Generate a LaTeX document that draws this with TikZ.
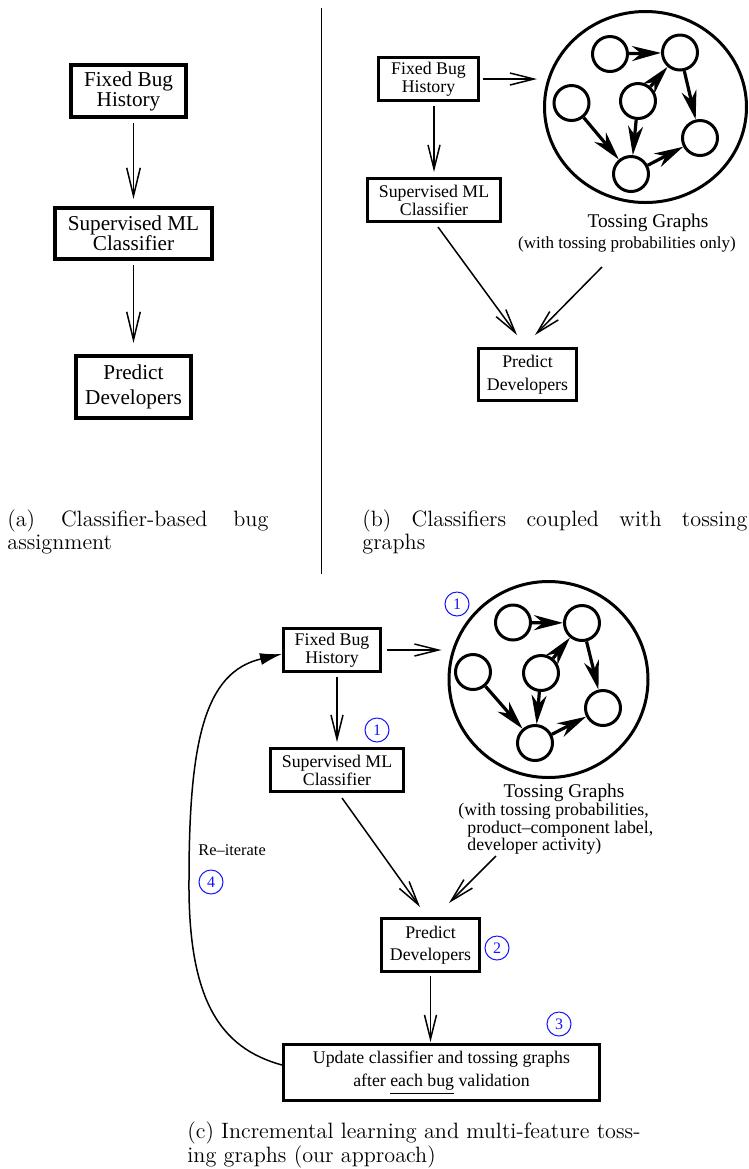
\documentclass[tikz,border=0pt]{standalone}
\usepackage{fontspec}
\newfontfamily\tms{Liberation Serif}
\usetikzlibrary{arrows.meta,calc,shapes.geometric}
\definecolor{cblue}{RGB}{20,20,255}
\begin{document}
\begin{tikzpicture}[x=0.5pt,y=-0.5pt,
  boxA/.style={draw,rectangle,line width=2pt,inner sep=0pt,align=center,font=\tms\fontsize{10.6pt}{10pt}\selectfont},
  boxB/.style={draw,rectangle,line width=1.5pt,inner sep=0pt,align=center,font=\tms\fontsize{8.9pt}{9pt}\selectfont},
  conn/.style={line width=0.75pt},
  barbA/.style={-{Straight Barb[length=14pt,width=6.8pt]}},
  barbB/.style={-{Straight Barb[length=12pt,width=6pt]}},
  bigc/.style={draw,ellipse,line width=1.5pt,inner sep=0pt},
  gnode/.style={draw,circle,line width=1.5pt,minimum size=17.5pt,inner sep=0pt},
  garrow/.style={line width=1.6pt,-{Stealth[length=14.5pt,width=7.5pt,inset=4.5pt]}},
  txt/.style={inner sep=0pt,font=\tms\fontsize{8.9pt}{9pt}\selectfont},
  tg/.style={inner sep=0pt,font=\tms\fontsize{9.7pt}{10pt}\selectfont},
  num/.style={draw=cblue,text=cblue,circle,line width=0.5pt,minimum size=12pt,inner sep=0pt,font=\tms\fontsize{8pt}{8pt}\selectfont},
  captxt/.style={inner sep=0pt,font=\fontsize{11.1pt}{12pt}\selectfont}]
\useasboundingbox (0,0) rectangle (749,1169);
\fill[white] (0,0) rectangle (749,1169);

% divider
\draw[line width=0.5pt] (321,8) -- (321,574);

% ---------- (a)
\node[boxA,minimum width=57.5pt,minimum height=26pt] (fa) at (128.5,91) {Fixed Bug\\History};
\node[boxA,minimum width=78.5pt,minimum height=25.5pt] (sa) at (133.5,233.5) {Supervised ML\\Classifier};
\node[boxA,minimum width=57.5pt,minimum height=31pt,font=\tms\fontsize{10.6pt}{12.5pt}\selectfont] (pa) at (133.5,387) {Predict\\Developers};
\draw[conn,barbA,shorten <=2pt,shorten >=3.5pt] (sa.north |- fa.south) -- (sa.north);
\draw[conn,barbA,shorten <=2pt,shorten >=5.5pt] (sa.south) -- (sa.south |- pa.north);

% ---------- (b)
\node[boxB,minimum width=50pt,minimum height=21.5pt] (fb) at (428.5,79) {Fixed Bug\\History};
\node[boxB,minimum width=66.5pt,minimum height=21.5pt] (sb) at (434,200) {Supervised ML\\Classifier};
\node[boxB,minimum width=49pt,minimum height=26pt,font=\tms\fontsize{8.9pt}{11.5pt}\selectfont] (pb) at (527.5,374.5) {Predict\\Developers};
\node[bigc,minimum width=101pt,minimum height=95.5pt] (cb) at (645.5,107) {};
\node[gnode] (b1) at (610,54) {};
\node[gnode] (b2) at (680,52.5) {};
\node[gnode] (b3) at (571.5,103) {};
\node[gnode] (b4) at (638,101) {};
\node[gnode] (b5) at (700,138) {};
\node[gnode] (b6) at (631,174) {};
\draw[garrow] (b1) -- (b2);
\draw[garrow] (b4) -- (b2);
\draw[garrow] (b2) -- (b5);
\draw[garrow] (b3) -- (b6);
\draw[garrow] (b4) -- (b6);
\draw[garrow] (b6) -- (b5);
\node[tg,anchor=base] (tgb1) at (648,227) {Tossing Graphs};
\node[txt,anchor=base,font=\tms\fontsize{8.5pt}{9pt}\selectfont] (tgb2) at (627,248) {(with tossing probabilities only)};
\draw[conn,barbB,shorten <=1.5pt,shorten >=3pt] (fb.east) -- (fb.east -| cb.west);
\draw[conn,barbB,shorten <=2pt,shorten >=2.5pt] (sb.north |- fb.south) -- (sb.north);
\draw[conn,barbB] ($(sb.south)+(4,4)$) -- ($(pb.north)+(-10.5,-12)$);
\draw[conn,barbB] ($(tgb2.base)+(-25,19)$) -- ($(pb.north)+(7.5,-12)$);

% ---------- (c)
\node[boxB,minimum width=48.5pt,minimum height=21.5pt] (fc) at (332,650) {Fixed Bug\\History};
\node[boxB,minimum width=66.5pt,minimum height=21.5pt] (sc) at (337,770) {Supervised ML\\Classifier};
\node[boxB,minimum width=49pt,minimum height=26.5pt,font=\tms\fontsize{8.9pt}{11pt}\selectfont] (pc) at (430.5,945) {Predict\\Developers};
\node[boxB,minimum width=158pt,minimum height=28pt,font=\tms\fontsize{8.9pt}{11.5pt}\selectfont] (uc) at (441.5,1072.5) {Update classifier and tossing graphs\\after \underline{each bug} validation};
\node[bigc,minimum width=99.5pt,minimum height=98pt] (cc) at (548.5,679.5) {};
\node[gnode] (c1) at (513,622.5) {};
\node[gnode] (c2) at (582,623) {};
\node[gnode] (c3) at (473,672) {};
\node[gnode] (c4) at (541,673) {};
\node[gnode] (c5) at (603,708) {};
\node[gnode] (c6) at (535,743) {};
\draw[garrow] (c1) -- (c2);
\draw[garrow] (c4) -- (c2);
\draw[garrow] (c2) -- (c5);
\draw[garrow] (c3) -- (c6);
\draw[garrow] (c4) -- (c6);
\draw[garrow] (c6) -- (c5);
\node[tg,anchor=base] (tgc1) at (564,797) {Tossing Graphs};
\node[txt,anchor=base west] (tgc2) at (458,815) {(with tossing probabilities,};
\node[txt,anchor=base west] (tgc3) at (467,833) {product–component label,};
\node[txt,anchor=base west] (tgc4) at (467,850) {developer activity)};
\node[txt,anchor=base west,font=\tms\fontsize{8.2pt}{9pt}\selectfont] (reit) at (198,855) {Re–iterate};
\draw[conn,barbB,shorten <=2.5pt,shorten >=3pt] (fc.east) -- (fc.east -| cc.west);
\draw[conn,barbB,shorten <=2pt,shorten >=2.5pt] (sc.north |- fc.south) -- (sc.north);
\draw[conn,barbB] ($(sc.south)+(5,5)$) -- ($(pc.north)+(-10.5,-10)$);
\draw[conn,barbB] ($(tgc4.base west)+(29,6)$) -- ($(pc.north)+(18.5,-14)$);
\draw[conn,barbB,shorten <=1.5pt,shorten >=0.5pt] (pc.south) -- (pc.south |- uc.north);
\draw[conn,-{Latex[length=11pt,width=6pt]}] ($(uc.west)+(0,-7.5)$) .. controls (220,1048) and (188,1000) .. (189,880) .. controls (189,740) and (205,672) .. ($(fc.west)+(0,4)$);

% circled numbers
\node[num] (k1) at (457,604) {1};
\node[num] (k1b) at (377,730) {1};
\node[num] (k2) at (497,948) {2};
\node[num] (k3) at (559,1024) {3};
\node[num] (k4) at (211,882) {4};

% captions
\node[captxt,anchor=base west] (capa1) at (7,526) {\makebox[130.5pt][s]{(a) Classifier-based bug}};
\node[captxt,anchor=base west] (capa2) at (7,549) {assignment};
\node[captxt,anchor=base west] (capb1) at (362,526) {\makebox[192.5pt][s]{(b) Classifiers coupled with tossing}};
\node[captxt,anchor=base west] (capb2) at (362,549) {graphs};
\node[captxt,anchor=base west] (capc1) at (187,1138) {(c) Incremental learning and multi-feature toss-};
\node[captxt,anchor=base west] (capc2) at (187,1162) {ing graphs (our approach)};
\end{tikzpicture}
\end{document}
